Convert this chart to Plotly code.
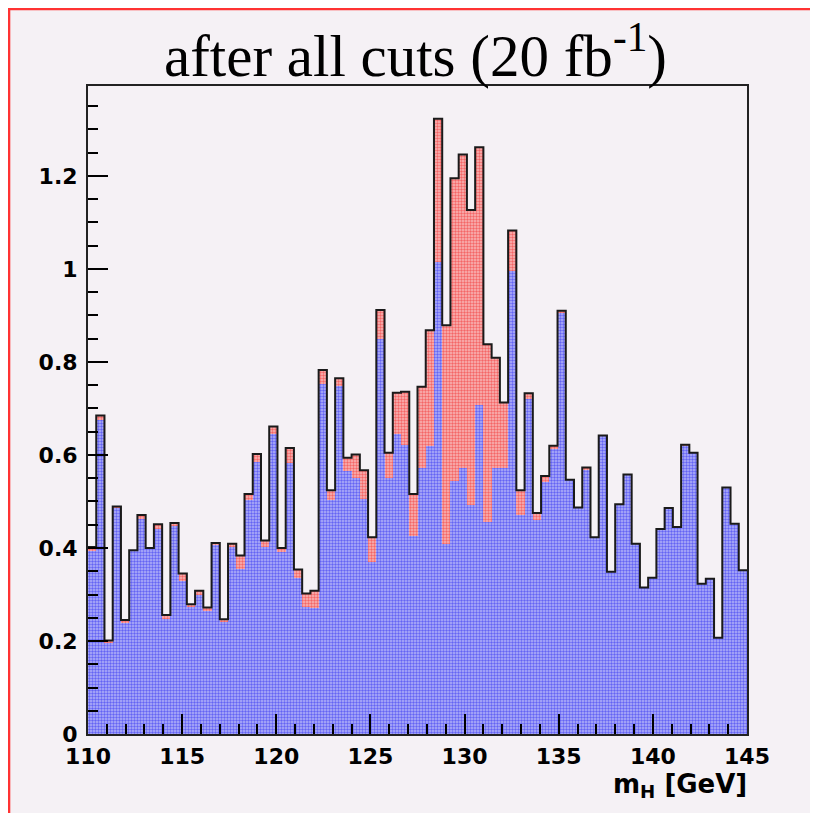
import plotly.graph_objects as go

# ---- data ----
x_min = 110.0
bin_width = 0.4375  # 80 bins from 110 to 145

background = [
    0.393, 0.675, 0.195, 0.486, 0.238, 0.395, 0.463, 0.400, 0.440, 0.247,
    0.447, 0.329, 0.274, 0.299, 0.265, 0.407, 0.240, 0.402, 0.354, 0.503,
    0.585, 0.402, 0.646, 0.391, 0.582, 0.336, 0.274, 0.270, 0.752, 0.503,
    0.748, 0.565, 0.551, 0.505, 0.370, 0.850, 0.551, 0.646, 0.622, 0.425,
    0.573, 0.619, 1.016, 0.409, 0.544, 0.571, 0.492, 0.708, 0.455, 0.571,
    0.573, 0.996, 0.471, 0.720, 0.460, 0.542, 0.612, 0.907, 0.547, 0.487,
    0.569, 0.423, 0.642, 0.349, 0.494, 0.558, 0.409, 0.315, 0.336, 0.441,
    0.486, 0.445, 0.620, 0.605, 0.323, 0.334, 0.207, 0.530, 0.452, 0.352,
]
signal = [
    0.009, 0.010, 0.006, 0.003, 0.007, 0.000, 0.008, 0.000, 0.011, 0.009,
    0.007, 0.016, 0.005, 0.009, 0.007, 0.004, 0.007, 0.007, 0.030, 0.013,
    0.017, 0.014, 0.015, 0.009, 0.033, 0.018, 0.028, 0.038, 0.031, 0.021,
    0.017, 0.029, 0.050, 0.062, 0.053, 0.062, 0.054, 0.088, 0.114, 0.091,
    0.174, 0.249, 0.307, 0.470, 0.651, 0.675, 0.635, 0.554, 0.383, 0.238,
    0.140, 0.087, 0.053, 0.013, 0.015, 0.013, 0.008, 0.003, 0.000, 0.000,
    0.004, 0.000, 0.000, 0.000, 0.000, 0.000, 0.000, 0.000, 0.000, 0.000,
    0.000, 0.000, 0.002, 0.000, 0.000, 0.000, 0.000, 0.000, 0.000, 0.000,
]

title_text = "after all cuts (20 fb<sup>-1</sup>)"
x_title = "m<sub>H</sub> [GeV]"
x_tick_vals = [110, 115, 120, 125, 130, 135, 140, 145]
y_tick_vals = [0, 0.2, 0.4, 0.6, 0.8, 1.0, 1.2]
y_tick_text = ["0", "0.2", "0.4", "0.6", "0.8", "1", "1.2"]

n_bins = len(background)
centers = [x_min + (i + 0.5) * bin_width for i in range(n_bins)]
edges = [x_min + i * bin_width for i in range(n_bins + 1)]
total = [b + s for b, s in zip(background, signal)]

# the page has an 8 px body margin: figure coordinates = page coordinates - 8
W, H = 810, 805
L, R, T, B = 80, 71, 78, 79
pw, ph = W - L - R, H - T - B

def px_x(p):
    return (p - L) / pw

def px_y(p):
    return (H - B - p) / ph

fig = go.Figure()
fig.add_trace(go.Bar(
    x=centers, y=background, width=bin_width,
    marker=dict(color="#a8a8f6", line=dict(width=0),
                pattern=dict(shape=".", fgcolor="#1414f0", bgcolor="#b4b4f8",
                             size=3, solidity=0.5)),
    showlegend=False, hoverinfo="skip",
))
fig.add_trace(go.Bar(
    x=centers, y=signal, width=bin_width,
    marker=dict(color="#f6a8a8", line=dict(width=0),
                pattern=dict(shape=".", fgcolor="#f01414", bgcolor="#f8b8b8",
                             size=3, solidity=0.5)),
    showlegend=False, hoverinfo="skip",
))
fig.add_trace(go.Scatter(
    x=edges, y=total + [total[-1]], mode="lines",
    line=dict(color="#1a1a1a", width=2, shape="hv"),
    showlegend=False, hoverinfo="skip",
))

tick_font = dict(family="DejaVu Sans", size=22, color="black", weight="bold")

fig.update_layout(
    width=W, height=H,
    margin=dict(l=L, r=R, t=T, b=B, pad=0),
    paper_bgcolor="#f5f1f5", plot_bgcolor="#f5f1f5",
    barmode="stack", bargap=0,
    xaxis=dict(
        range=[110, 145], tickmode="array", tickvals=x_tick_vals,
        ticks="inside", ticklen=20, tickwidth=1.5, tickcolor="black",
        minor=dict(dtick=1, ticks="inside", ticklen=10, tickwidth=1.5, tickcolor="black"),
        showgrid=False, zeroline=False,
        showline=True, linecolor="#222", linewidth=2, mirror=True,
        tickfont=tick_font, ticklabelstandoff=2,
    ),
    yaxis=dict(
        range=[0, 1.3935], tickmode="array", tickvals=y_tick_vals, ticktext=y_tick_text,
        ticks="inside", ticklen=20, tickwidth=1.5, tickcolor="black",
        minor=dict(dtick=0.05, ticks="inside", ticklen=10, tickwidth=1.5, tickcolor="black"),
        showgrid=False, zeroline=False,
        showline=True, linecolor="#222", linewidth=2, mirror=True,
        tickfont=tick_font, ticklabelstandoff=4,
    ),
    annotations=[
        dict(text=title_text, xref="paper", yref="paper",
             x=px_x(407), y=px_y(43), xanchor="center", yanchor="middle",
             showarrow=False,
             font=dict(family="Liberation Serif, Times New Roman, serif", size=59, color="black")),
        dict(text=x_title, xref="paper", yref="paper",
             x=px_x(741), y=px_y(777), xanchor="right", yanchor="middle",
             showarrow=False,
             font=dict(family="DejaVu Sans", size=26, color="black", weight="bold")),
    ],
    shapes=[
        dict(type="line", xref="paper", yref="paper", x0=px_x(0.8), x1=px_x(0.8),
             y0=px_y(H), y1=px_y(0), line=dict(color="#ff3333", width=3), layer="above"),
        dict(type="line", xref="paper", yref="paper", x0=px_x(0), x1=px_x(W),
             y0=px_y(0.8), y1=px_y(0.8), line=dict(color="#ff3333", width=3), layer="above"),
    ],
)

fig.write_html("out.html", config={"displayModeBar": False})
